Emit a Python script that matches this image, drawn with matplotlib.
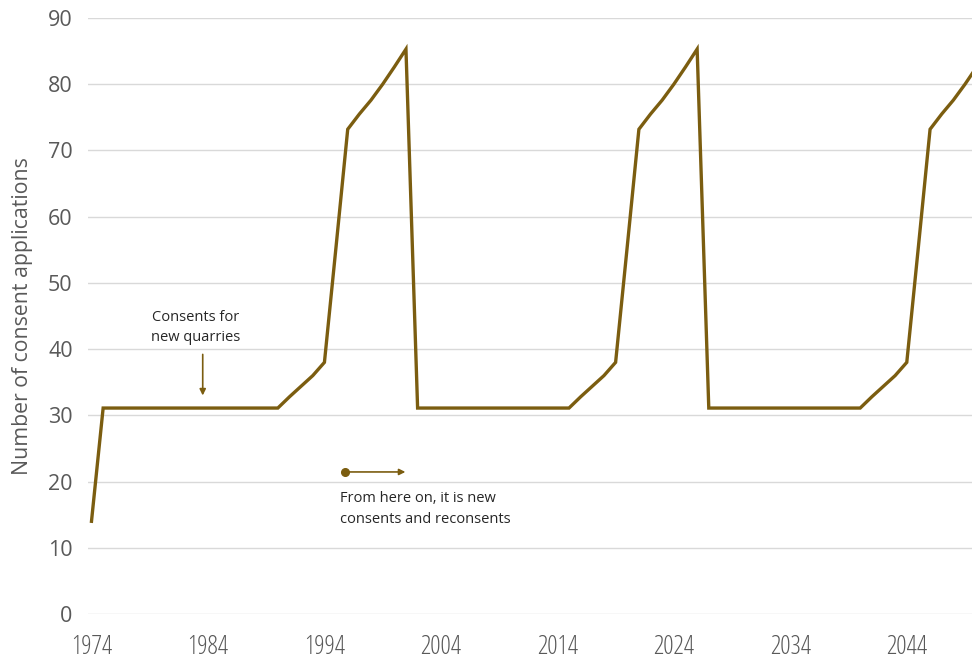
import matplotlib
matplotlib.use("Agg")
import matplotlib.pyplot as plt

# Annual number of consent applications (new consents, then new + reconsents)
years = list(range(1974, 2052))
applications = (
    [14.0]
    + [31.1] * 16                                   # 1975-1990
    + [32.8, 34.4, 36.0, 38.0, 55.5, 73.2, 75.5, 77.6, 80.0, 82.6, 85.3]  # 1991-2001
    + [31.1] * 14                                   # 2002-2015
    + [32.8, 34.4, 36.0, 38.0, 55.5, 73.2, 75.5, 77.6, 80.0, 82.6, 85.3]  # 2016-2026
    + [31.1] * 14                                   # 2027-2040
    + [32.8, 34.4, 36.0, 38.0, 55.5, 73.2, 75.5, 77.6, 80.0, 82.6, 85.3]  # 2041-2051
)

x_ticks = [1974, 1984, 1994, 2004, 2014, 2024, 2034, 2044]
y_ticks = [0, 10, 20, 30, 40, 50, 60, 70, 80, 90]

line_color = "#7b5d10"
grid_color = "#d9d9d9"
label_color = "#595959"
note_color = "#262626"
sans = ["Open Sans", "DejaVu Sans"]

fig = plt.figure(figsize=(9.72, 6.61), dpi=100)
ax = fig.add_axes([88 / 972, (661 - 614) / 661, 1 - 88 / 972, (614 - 18) / 661])

ax.plot(years, applications, color=line_color, lw=2.4, solid_joinstyle="miter",
        clip_on=True, zorder=3)

ax.set_xlim(1973.7, 2049.6)
ax.set_ylim(0, 90)
ax.set_yticks(y_ticks)
ax.set_xticks(x_ticks)
ax.grid(axis="y", color=grid_color, lw=1)
ax.set_axisbelow(True)
for s in ax.spines.values():
    s.set_visible(False)
ax.tick_params(axis="both", length=0, colors=label_color)
ax.tick_params(axis="y", pad=11)
ax.tick_params(axis="x", pad=15)

for t in ax.get_yticklabels():
    t.set_fontfamily(sans)
    t.set_fontsize(15.5)
for t in ax.get_xticklabels():
    t.set_fontfamily(sans)
    t.set_fontstretch("condensed")
    t.set_fontsize(18.5)

ax.set_ylabel("Number of consent applications", fontsize=15.3, color=label_color,
              family=sans)
ax.yaxis.set_label_coords(-(88 - 33) / 884, 0.5)

# Annotation: new quarries
ax.text(1982.9, 45.9, "Consents for\nnew quarries", ha="center", va="top",
        fontsize=10.5, color=note_color, family=sans, linespacing=1.45)
ax.annotate("", xy=(1983.55, 33.0), xytext=(1983.55, 39.2),
            arrowprops=dict(arrowstyle="-|>", color=line_color, lw=1.2,
                            mutation_scale=9, shrinkA=0, shrinkB=0))

# Annotation: from here on
ax.plot([1995.75], [21.45], "o", color=line_color, ms=5.5, zorder=4)
ax.annotate("", xy=(2000.95, 21.45), xytext=(1995.75, 21.45),
            arrowprops=dict(arrowstyle="-|>", color=line_color, lw=1.2,
                            mutation_scale=9, shrinkA=0, shrinkB=0))
ax.text(1995.3, 18.6, "From here on, it is new\nconsents and reconsents",
        ha="left", va="top", fontsize=10.5, color=note_color,
        family=sans, linespacing=1.55)

fig.savefig("out.png", dpi=100)
